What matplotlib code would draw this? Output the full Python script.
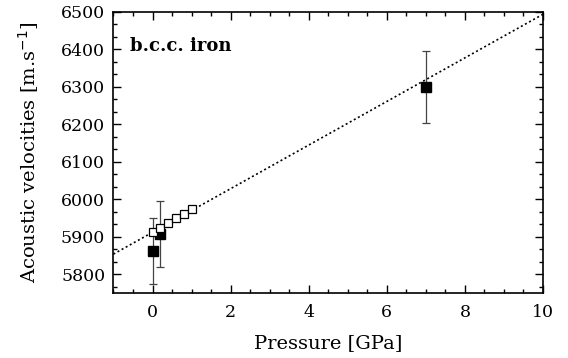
import matplotlib
matplotlib.use("Agg")
import matplotlib.pyplot as plt
import numpy as np
from matplotlib.ticker import MultipleLocator

plt.rcParams['font.family'] = ['DejaVu Serif']

# open squares (ultrasonic)
p_open = [0.0, 0.2, 0.4, 0.6, 0.8, 1.0]
v_open = [5912, 5924, 5938, 5950, 5962, 5974]

# filled squares with error bars
p_fill = [0.0, 0.2, 7.0]
v_fill = [5863, 5907, 6300]
v_err = [88, 88, 95]

# linear fit (dotted)
fit_intercept = 5912
fit_slope = 58.2
fit_range = [-1, 10]

fig = plt.figure(figsize=(5.68, 3.58), dpi=100)
ax = fig.add_axes([0.1998, 0.1816, 0.7562, 0.7849])

xf = np.array(fit_range, dtype=float)
ax.plot(xf, fit_intercept + fit_slope * xf, linestyle=(0, (1.2, 1.6)), color='black', lw=1.2)

ax.errorbar(p_fill, v_fill, yerr=v_err, fmt='s', color='black', ms=6.5,
            ecolor='#444444', elinewidth=0.9, capsize=3, capthick=0.9, zorder=3)
ax.plot(p_open, v_open, 's', mfc='white', mec='black', ms=6, mew=0.9, zorder=4)

ax.set_xlim(-1, 10)
ax.set_ylim(5750, 6500)
ax.xaxis.set_major_locator(MultipleLocator(2))
ax.xaxis.set_minor_locator(MultipleLocator(0.5))
ax.yaxis.set_major_locator(MultipleLocator(100))
ax.yaxis.set_minor_locator(MultipleLocator(100/3))
ax.tick_params(which='both', direction='in', top=True, right=True, labelsize=12.5, width=1)
ax.tick_params(which='major', length=6)
ax.tick_params(which='minor', length=3)
ax.tick_params(axis='x', pad=8)
ax.tick_params(axis='y', pad=6)
for s in ax.spines.values():
    s.set_linewidth(1.2)

ax.set_xlabel('Pressure [GPa]', fontsize=14, labelpad=9)
ax.set_ylabel('Acoustic velocities [m.s$^{-1}$]', fontsize=14, labelpad=14)
ax.text(0.038, 0.88, 'b.c.c. iron', transform=ax.transAxes, fontsize=13,
        fontweight='bold', va='center', ha='left')

fig.savefig('out.png', dpi=100)
